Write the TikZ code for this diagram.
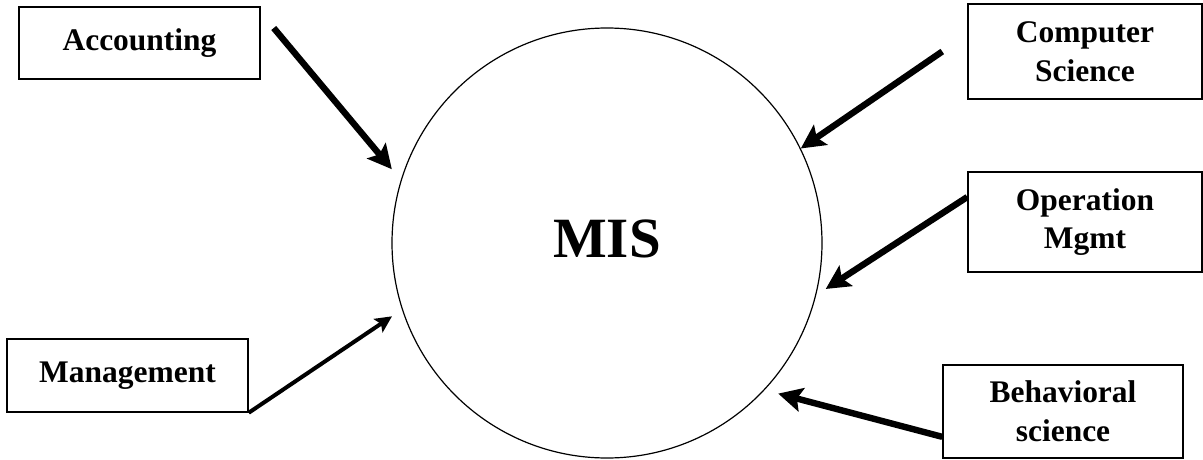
\documentclass[tikz,border=0pt]{standalone}
\usepackage{fontspec}
\setmainfont{Liberation Serif}
\usetikzlibrary{
    positioning,
    arrows.meta
}

\begin{document}
\begin{tikzpicture}
[
    x=0.75pt,
    y=-0.75pt,
    font=\bfseries\fontsize{23.6}{29}\selectfont,
    block/.style={
        rectangle,
        draw=black,
        line width=1.1pt,
        align=center,
        inner sep=0pt
    },
    hub/.style={
        circle,
        draw=black,
        line width=0.9pt,
        minimum size=322.5pt,
        inner sep=0pt,
        text depth=6pt,
        font=\bfseries\fontsize{42.7}{48}\selectfont
    },
    arrow/.style={
        -{Stealth[length=18pt,width=18pt,inset=3.5pt]},
        line width=4.8pt
    },
    thinarrow/.style={
        -{Stealth[length=12.5pt,width=12pt,inset=2.5pt]},
        line width=3pt
    }
]

\useasboundingbox (0,0) rectangle (1203,460);


% =====================
% CENTRE
% =====================

\node[hub] (mis) at (607,243) {MIS};


% =====================
% FEEDER DISCIPLINES
% =====================

\node[
block,
minimum width=180.75pt,
minimum height=54pt
]
(acc) at (139.5,43)
{Accounting};


\node[
block,
minimum width=180.75pt,
minimum height=54.75pt
]
(mgmt) at (127.5,375.5)
{Management};


\node[
block,
minimum width=175.5pt,
minimum height=71.25pt
]
(cs) at (1085,51.5)
{Computer\\Science};


\node[
block,
minimum width=175.5pt,
minimum height=75pt
]
(om) at (1085,222)
{Operation\\Mgmt};


\node[
block,
minimum width=180pt,
minimum height=69.75pt
]
(beh) at (1063,411.5)
{Behavioral\\science};


% =====================
% CONNECTIONS
% =====================

\draw[arrow, shorten >=10.5pt]
([xshift=9.75pt,yshift=11.25pt]acc.east)
--
(mis.163);


\draw[arrow]
([xshift=-18.75pt]cs.west)
--
(mis.26);


\draw[arrow, shorten >=8.5pt]
([yshift=18.75pt]om.west)
--
(mis.-14);


\draw[thinarrow, shorten >=9pt]
(mgmt.south east)
--
(mis.198);


\draw[arrow, shorten >=10.5pt]
([yshift=-19pt]beh.west)
--
(mis.-43);


\end{tikzpicture}
\end{document}
